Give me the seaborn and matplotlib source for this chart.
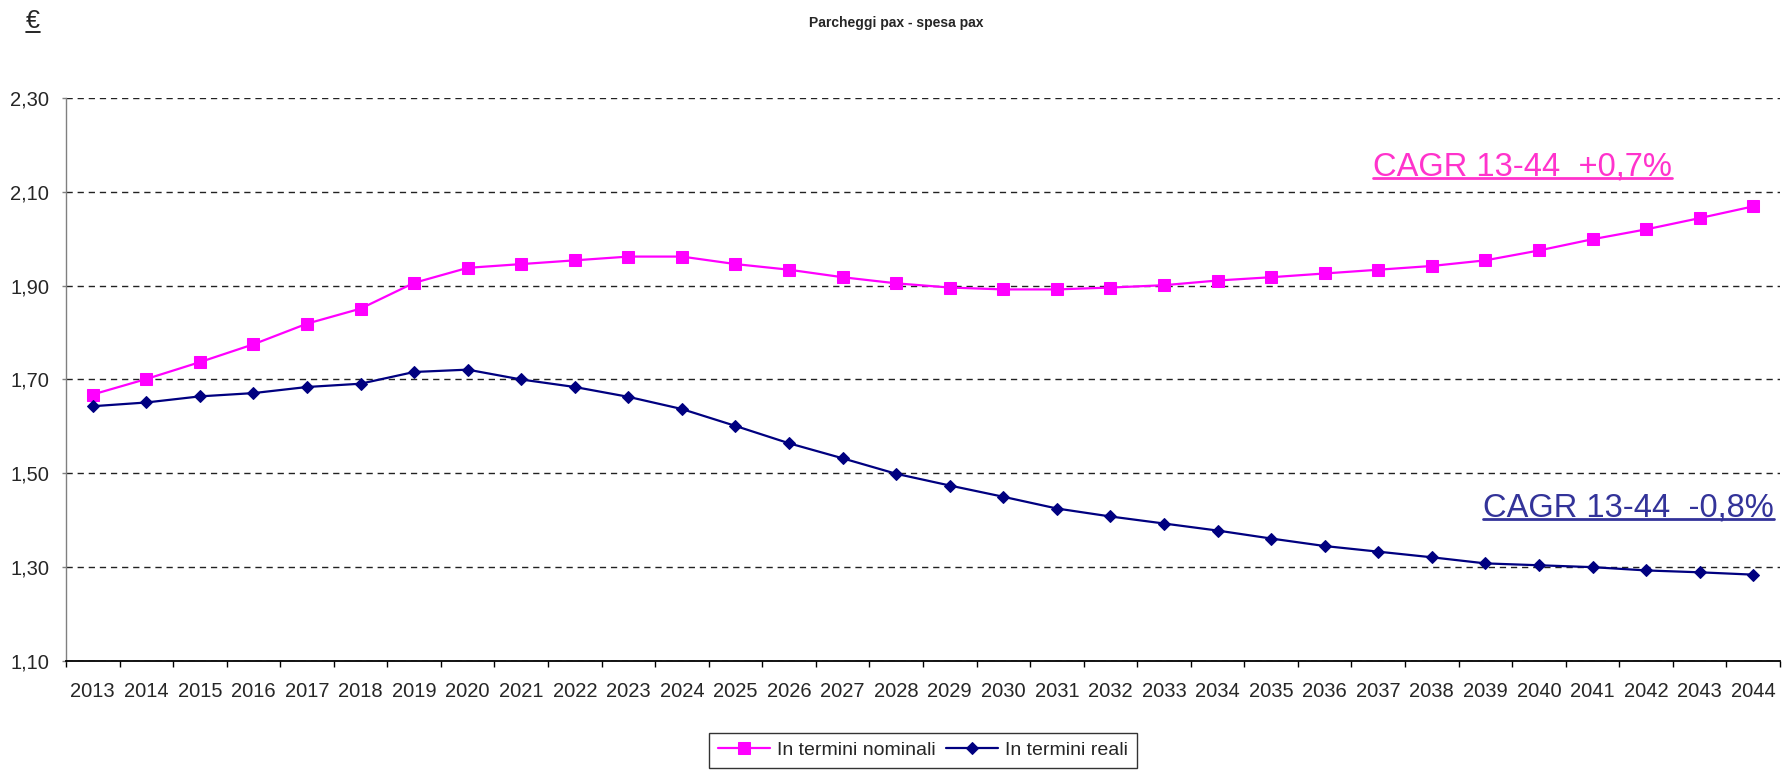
import matplotlib
matplotlib.use('Agg')
import numpy as np
import pandas as pd
import matplotlib.pyplot as plt
from matplotlib.lines import Line2D
from matplotlib.ticker import FuncFormatter
import seaborn as sns

years = list(range(2013, 2045))
nominali = [1.668, 1.701, 1.737, 1.775, 1.819, 1.851, 1.906, 1.938, 1.946, 1.954,
            1.962, 1.962, 1.946, 1.934, 1.918, 1.905, 1.896, 1.892, 1.892, 1.896,
            1.901, 1.911, 1.918, 1.926, 1.934, 1.942, 1.954, 1.975, 1.999, 2.020,
            2.044, 2.069]
reali = [1.643, 1.651, 1.664, 1.671, 1.684, 1.691, 1.716, 1.721, 1.700, 1.684,
         1.663, 1.637, 1.601, 1.564, 1.532, 1.499, 1.474, 1.450, 1.425, 1.408,
         1.393, 1.378, 1.361, 1.345, 1.333, 1.321, 1.308, 1.304, 1.300, 1.293,
         1.289, 1.284]
y_ticks = [1.10, 1.30, 1.50, 1.70, 1.90, 2.10, 2.30]

sns.set_style('white')
plt.rcParams['font.family'] = ['Liberation Sans', 'DejaVu Sans']

df = pd.DataFrame({'anno': years, 'nominali': nominali, 'reali': reali})

fig = plt.figure(figsize=(17.92, 7.7), dpi=100)
ax = fig.add_axes([0.0368, 0.1416, 0.9565, 0.7311])

sns.lineplot(data=df, x='anno', y='nominali', ax=ax, color='#FF00FF', marker='s',
             markersize=8, markeredgecolor='#FF00FF', linewidth=1.6,
             label='In termini nominali')
sns.lineplot(data=df, x='anno', y='reali', ax=ax, color='#000080', marker='D',
             markersize=6.3, markeredgecolor='#000080', linewidth=1.6,
             label='In termini reali')

# axes look (excel style)
ax.set_ylim(y_ticks[0], y_ticks[-1])
ax.set_yticks(y_ticks)
ax.yaxis.set_major_formatter(FuncFormatter(lambda v, p: f'{v:.2f}'.replace('.', ',')))
ax.yaxis.grid(True, linestyle=(0, (4.5, 3.5)), color='#222222', lw=1)
ax.set_axisbelow(True)

ax.set_xlim(years[0] - 0.5, years[-1] + 0.5)
ax.set_xticks([y - 0.5 for y in years] + [years[-1] + 0.5])
ax.set_xticklabels([])
ax.set_xticks(years, minor=True)
ax.set_xticklabels([str(y) for y in years], minor=True)
ax.tick_params(axis='x', which='major', length=4.5, width=1, color='black', bottom=True)
ax.tick_params(axis='x', which='minor', length=0, pad=15, labelsize=14.5)
ax.tick_params(axis='y', length=3, width=1, color='#808080', labelsize=14.5, pad=9, left=True)
ax.set_xlabel('')
ax.set_ylabel('')

for s in ['top', 'right']:
    ax.spines[s].set_visible(False)
ax.spines['left'].set_color('#808080')
ax.spines['left'].set_linewidth(1)
ax.spines['bottom'].set_color('black')
ax.spines['bottom'].set_linewidth(1.3)

leg = ax.legend(loc='upper center', bbox_to_anchor=(0.515, 0.0484),
                bbox_transform=fig.transFigure, ncol=2, frameon=True, fancybox=False,
                edgecolor='black', fontsize=14, numpoints=1, handlelength=2.7,
                handletextpad=0.35, columnspacing=0.5, borderpad=0.45, borderaxespad=0)
leg.get_frame().set_linewidth(1)

fig.text(0.5, 1 - 23 / 770, 'Parcheggi pax - spesa pax', ha='center', va='center',
         fontsize=10, fontweight='bold')
euro = fig.text(33 / 1792, 1 - 28 / 770, '€', ha='center', va='baseline', fontsize=18)

cagr_nom = ax.text(0.7626, 0.863, 'CAGR 13-44  +0,7%', transform=ax.transAxes,
                   ha='left', va='baseline', fontsize=23.5, color='#FF33CC')
cagr_real = ax.text(0.8267, 0.2575, 'CAGR 13-44  -0,8%', transform=ax.transAxes,
                    ha='left', va='baseline', fontsize=23.5, color='#333399')

fig.canvas.draw()
inv = fig.transFigure.inverted()


def underline(txt, color, lw, gap):
    bb = txt.get_window_extent()
    base = txt.get_transform().transform(txt.get_position())[1] - gap
    (x0, y0), (x1, _) = inv.transform([(bb.x0, base), (bb.x1, base)])
    fig.add_artist(Line2D([x0, x1], [y0, y0], transform=fig.transFigure,
                          color=color, lw=lw))


underline(cagr_nom, '#FF33CC', 2, 3)
underline(cagr_real, '#333399', 2, 3)
underline(euro, 'black', 1.2, 4)

fig.savefig('out.png', dpi=100)
